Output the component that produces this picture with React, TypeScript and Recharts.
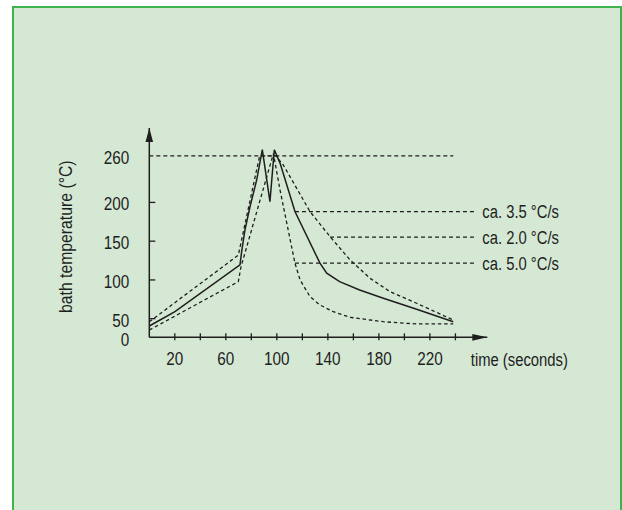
import { LineChart, Line, XAxis, YAxis, ReferenceLine, ReferenceDot } from "recharts";

// solid profile
const solidTime = [0, 20.1, 71.1, 72.4, 75, 79, 84.2, 88.6, 94.6, 98, 102.5, 114.2, 133.8, 139.1, 149.2, 164.9, 183.5, 209.6, 238.3];
const solidTemp = [40.6, 59, 119.4, 136.5, 164.6, 194.7, 229, 268, 201, 268, 250.7, 188.2, 121.6, 108.7, 97.8, 87.1, 76.4, 62.2, 46.1];

// dashed profile, starts higher, cools slowly
const upperTime = [0, 69.8, 86.5, 99, 105, 126, 141.7, 157.4, 173, 188.7, 209.6, 238.3];
const upperTemp = [46, 132, 260, 260, 248.5, 188.2, 155.9, 125.8, 102.2, 84.9, 69.9, 48.3];

// dashed profile, starts lower, cools fast
const lowerTime = [0, 69.8, 71.9, 97.3, 102.5, 114.2, 118.2, 126, 133.8, 144.3, 157.4, 183.5, 209.6, 238.3];
const lowerTemp = [35.4, 97.8, 117, 263, 216, 121.6, 100, 78.4, 67.7, 59, 51.8, 46.1, 43.2, 43.2];

// cooling rate callouts
const rateLabels = ["ca. 3.5 °C/s", "ca. 2.0 °C/s", "ca. 5.0 °C/s"];
const rateTemps = [188.2, 155.1, 121.6];
const rateStart = [114.2, 141.7, 114.2];
const rateEnd = 256.7;

const xTicks = [20, 40, 60, 80, 100, 120, 140, 160, 180, 200, 220, 240];
const xLabels = [20, 60, 100, 140, 180, 220];
const yTicks = [26, 50, 100, 150, 200, 260];
const PEAK = 260;
const X_MAX = 265;
const Y_MIN = 26;
const Y_MAX = 296;

const FONT = "'Liberation Sans', Arial, sans-serif";
const INK = "#1e1e1e";

const toRows = (t: number[], v: number[]) => t.map((x, i) => ({ t: x, v: v[i] }));

// narrow text: the original uses a condensed face, squeeze a regular one
function NText({ x, y, children, anchor = "start", size = 19, sx = 0.78, rotate = 0 }: any) {
  return (
    <text
      transform={`translate(${x} ${y}) rotate(${rotate}) scale(${sx} 1)`}
      textAnchor={anchor}
      fontFamily={FONT}
      fontSize={size}
      fill={INK}
    >
      {children}
    </text>
  );
}

function YTick({ x, y, payload }: any) {
  const v = payload.value;
  const isZero = v === Y_MIN;
  return (
    <g>
      {!isZero && v !== PEAK && <line x1={x} x2={x + 6} y1={y} y2={y} stroke={INK} strokeWidth={1.3} />}
      <NText x={x - 20} y={y + (isZero ? 9 : 8)} anchor="end" size={18} sx={0.85}>
        {isZero ? "0" : v}
      </NText>
    </g>
  );
}

function XTick({ x, y, payload }: any) {
  const v = payload.value;
  return (
    <g>
      <line x1={x} x2={x} y1={y - 4} y2={y + 3} stroke={INK} strokeWidth={1.3} />
      {xLabels.includes(v) && (
        <NText x={x} y={y + 27.5} anchor="middle" size={18} sx={0.85}>
          {v}
        </NText>
      )}
    </g>
  );
}

export default function App() {
  return (
    <div style={{ position: "absolute", left: 0, top: 0, width: 622, height: 510, overflow: "hidden" }}>
      <div
        style={{
          position: "absolute",
          left: 12,
          top: 6,
          width: 606,
          height: 520,
          background: "#d5e8d4",
          border: "2px solid #3cb44b",
        }}
      />
      <div style={{ position: "absolute", left: 0, top: 0 }}>
        <LineChart width={622} height={510} margin={{ top: 128, right: 134.7, bottom: 142.7, left: 89.3 }}>
          <XAxis
            dataKey="t"
            type="number"
            domain={[0, X_MAX]}
            ticks={xTicks}
            interval={0}
            tickSize={0}
            tickMargin={0}
            height={30}
            tick={(p: any) => <XTick {...p} />}
            axisLine={{ stroke: INK, strokeWidth: 1.5 }}
            label={(p: any) => {
              const vb = p.viewBox;
              return (
                <NText x={vb.x + vb.width - 16.5} y={vb.y + 28.5}>
                  time (seconds)
                </NText>
              );
            }}
          />
          <YAxis
            type="number"
            domain={[Y_MIN, Y_MAX]}
            ticks={yTicks}
            interval={0}
            tickSize={0}
            tickMargin={0}
            width={60}
            tick={(p: any) => <YTick {...p} />}
            axisLine={{ stroke: INK, strokeWidth: 1.5 }}
            label={(p: any) => {
              const vb = p.viewBox;
              return (
                <NText x={vb.x - 17} y={236.7} anchor="middle" rotate={-90} sx={0.83}>
                  bath temperature (°C)
                </NText>
              );
            }}
          />
          <ReferenceLine
            segment={[{ x: 0, y: PEAK }, { x: 238.3, y: PEAK }]}
            stroke={INK}
            strokeWidth={1.2}
            strokeDasharray="4 3"
          />
          {rateLabels.map((txt, i) => (
            <ReferenceLine
              key={txt}
              segment={[{ x: rateStart[i], y: rateTemps[i] }, { x: rateEnd, y: rateTemps[i] }]}
              stroke={INK}
              strokeWidth={1.2}
              strokeDasharray="4 3"
              label={(p: any) => {
                const vb = p.viewBox;
                return (
                  <NText x={vb.x + vb.width + 5.6} y={vb.y + 6.8}>
                    {txt}
                  </NText>
                );
              }}
            />
          ))}
          <Line data={toRows(upperTime, upperTemp)} dataKey="v" type="linear" stroke={INK} strokeWidth={1.3} strokeDasharray="3.5 2.8" dot={false} activeDot={false} isAnimationActive={false} />
          <Line data={toRows(lowerTime, lowerTemp)} dataKey="v" type="linear" stroke={INK} strokeWidth={1.3} strokeDasharray="3.5 2.8" dot={false} activeDot={false} isAnimationActive={false} />
          <Line data={toRows(solidTime, solidTemp)} dataKey="v" type="linear" stroke={INK} strokeWidth={1.5} dot={false} activeDot={false} isAnimationActive={false} />
          <ReferenceDot
            x={0}
            y={Y_MAX}
            r={0}
            shape={(p: any) => (
              <polygon points={`${p.cx},${p.cy} ${p.cx - 3.8},${p.cy + 14} ${p.cx + 3.8},${p.cy + 14}`} fill={INK} />
            )}
          />
          <ReferenceDot
            x={X_MAX}
            y={Y_MIN}
            r={0}
            shape={(p: any) => (
              <polygon points={`${p.cx},${p.cy} ${p.cx - 15},${p.cy - 3.4} ${p.cx - 15},${p.cy + 3.4}`} fill={INK} />
            )}
          />
        </LineChart>
      </div>
    </div>
  );
}
